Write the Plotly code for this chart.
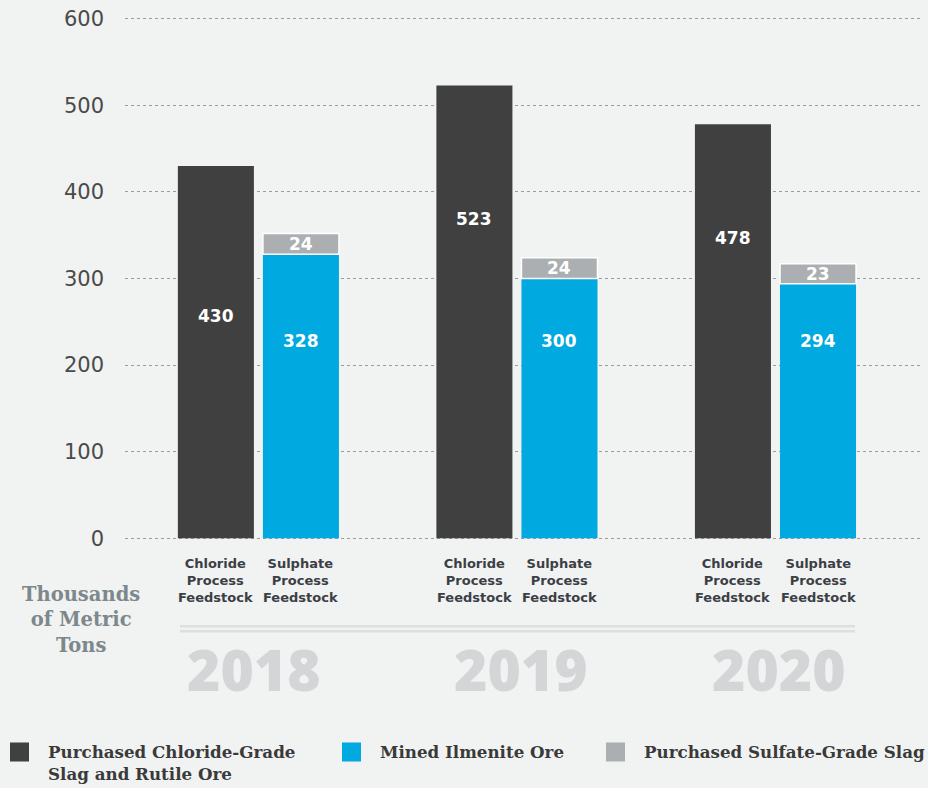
import plotly.graph_objects as go

# ---- data ----
years = ["2018", "2019", "2020"]
chloride_feed = [430, 523, 478]          # Purchased Chloride-Grade Slag and Rutile Ore
ilmenite_ore = [328, 300, 294]           # Mined Ilmenite Ore
sulfate_slag = [24, 24, 23]              # Purchased Sulfate-Grade Slag
y_ticks = [0, 100, 200, 300, 400, 500, 600]
bar_labels = ["Chloride<br>Process<br>Feedstock", "Sulphate<br>Process<br>Feedstock"]
legend_names = ["Purchased Chloride-Grade<br>Slag and Rutile Ore",
                "Mined Ilmenite Ore",
                "Purchased Sulfate-Grade Slag"]
axis_title = "Thousands<br>of Metric<br>Tons"

# label anchor heights inside bars (data units, as placed in the original)
chloride_label_at = [257, 369, 347]
ilmenite_label_at = [228, 228, 228]

# ---- styles ----
BG = "#f1f2f2"
C_DARK = "#404041"
C_BLUE = "#00a9e0"
C_GRAY = "#abafb1"
W, H = 928, 788
PAD = 2                                   # small y padding so edge gridlines are drawn
K = 519 / 600                             # px per data unit
L, R = 125, 920
T, B = 19 - PAD * K, 538 + PAD * K
BARGAP, GROUPGAP = 0.342, 0.106
XR = [-0.516, 2.559]
YR = [-PAD, 600 + PAD]

def px(x):
    return (x - L) / (R - L)

def py(y):
    return (B - y) / (B - T)

cat_px = (R - L) / (XR[1] - XR[0])
slot = cat_px * (1 - BARGAP) / 2
shift = slot / 2
zero_shift = -PAD * K                     # y=0 offset inside plot area (unused for data)

fig = go.Figure()
fig.add_bar(x=years, y=chloride_feed, offsetgroup="chl", marker_color=C_DARK,
            marker_line_width=0, name=legend_names[0], showlegend=False)
fig.add_bar(x=years, y=ilmenite_ore, offsetgroup="sul", marker_color=C_BLUE,
            marker_line_width=0, name=legend_names[1], showlegend=False)
fig.add_bar(x=years, y=sulfate_slag, base=ilmenite_ore, offsetgroup="sul",
            marker_color=C_GRAY, marker_line=dict(color="white", width=1.5),
            name=legend_names[2], showlegend=False)

ann = []
lab_font = dict(family="DejaVu Sans", size=17, color="white", weight="bold")
for i, yr in enumerate(years):
    ann.append(dict(x=i, y=chloride_label_at[i], xshift=-shift, text=str(chloride_feed[i]),
                    showarrow=False, font=lab_font, yanchor="middle"))
    ann.append(dict(x=i, y=ilmenite_label_at[i], xshift=shift, text=str(ilmenite_ore[i]),
                    showarrow=False, font=lab_font, yanchor="middle"))
    ann.append(dict(x=i, y=ilmenite_ore[i] + sulfate_slag[i] / 2, xshift=shift,
                    text=str(sulfate_slag[i]), showarrow=False, font=lab_font, yanchor="middle"))
    for k, sgn in enumerate([-1, 1]):
        ann.append(dict(x=i, y=0, yshift=-42, xshift=sgn * shift, text=bar_labels[k],
                        showarrow=False, yanchor="middle",
                        font=dict(family="DejaVu Sans", size=13, color="#3b3f45", weight="bold")))
    ann.append(dict(x=i, y=0, yshift=-131, xshift=-4 if i == 0 else 4, text=yr, showarrow=False,
                    yanchor="middle",
                    font=dict(family="Open Sans", size=57, color="#d3d5d6", weight=800)))

ann.append(dict(xref="paper", yref="paper", x=px(81), y=py(620), text=axis_title,
                showarrow=False, xanchor="center", yanchor="middle",
                font=dict(family="DejaVu Serif", size=19.5, color="#7d888c", weight="bold")))

shapes = []
for y0 in [626, 631]:
    shapes.append(dict(type="line", xref="paper", yref="paper", x0=px(180), x1=px(855),
                       y0=py(y0), y1=py(y0), line=dict(color="#dcdedf", width=2.5)))

leg_sq = [(10, C_DARK), (342, C_BLUE), (606, C_GRAY)]
leg_tx = [46, 378, 642]
for (sx, col), tx, name in zip(leg_sq, leg_tx, legend_names):
    shapes.append(dict(type="rect", xref="paper", yref="paper", x0=px(sx), x1=px(sx + 19),
                       y0=py(742), y1=py(761), fillcolor=col, line_width=0))
    ann.append(dict(xref="paper", yref="paper", x=px(tx), y=py(740), text=name,
                    showarrow=False, xanchor="left", yanchor="top", align="left",
                    font=dict(family="DejaVu Serif", size=16.7, color="#3a3a3a", weight="bold")))

fig.update_layout(
    width=W, height=H,
    margin=dict(l=L, r=W - R, t=T, b=H - B, autoexpand=False),
    paper_bgcolor=BG, plot_bgcolor=BG,
    barmode="group", bargap=BARGAP, bargroupgap=GROUPGAP,
    annotations=ann, shapes=shapes, showlegend=False,
    xaxis=dict(type="category", range=XR, showticklabels=False, showgrid=False,
               zeroline=False, fixedrange=True),
    yaxis=dict(range=YR, tickvals=y_ticks, showgrid=True, gridcolor="#9c9c9c",
               griddash="dot", gridwidth=1, zeroline=False, ticklabelstandoff=20,
               tickfont=dict(family="DejaVu Sans", size=21, color="#4a4a4a")),
)

fig.write_html("out.html", config={"displayModeBar": False},
               post_script="document.body.style.margin='0px';document.body.style.background='%s';" % BG)
